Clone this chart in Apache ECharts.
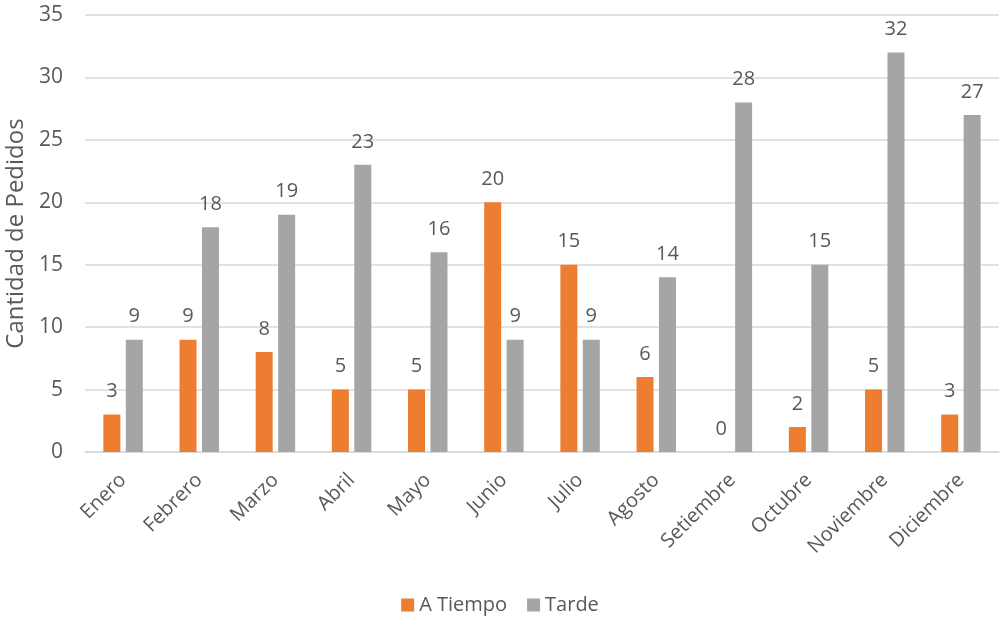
<!DOCTYPE html>
<html>
<head>
<meta charset="utf-8">
<script src="https://cdn.jsdelivr.net/npm/echarts@6/dist/echarts.min.js"></script>
<style>
  html, body { margin: 0; padding: 0; background: #fff; }
  #chart { width: 1000px; height: 617px; }
</style>
</head>
<body>
<div id="chart"></div>
<script>
// Pedidos por mes: entregados a tiempo vs. tarde
const meses = ['Enero', 'Febrero', 'Marzo', 'Abril', 'Mayo', 'Junio', 'Julio',
  'Agosto', 'Setiembre', 'Octubre', 'Noviembre', 'Diciembre'];
const aTiempo = [3, 9, 8, 5, 5, 20, 15, 6, 0, 2, 5, 3];
const tarde = [9, 18, 19, 23, 16, 9, 9, 14, 28, 15, 32, 27];

const textColor = '#595959';
const fontFamily = '"Open Sans", "Noto Sans", sans-serif';

const chart = echarts.init(document.getElementById('chart'));

const labelStyle = {
  show: true,
  position: 'top',
  distance: 13,
  color: textColor,
  fontSize: 20,
  fontFamily: fontFamily
};

chart.setOption({
  animation: false,
  textStyle: { fontFamily: fontFamily },
  grid: {
    left: 85, right: 1, top: 15, bottom: 165,
    containLabel: false,
    outerBoundsMode: 'none'
  },
  legend: {
    top: 590,
    left: 'center',
    itemWidth: 13,
    itemHeight: 13,
    itemGap: 20,
    icon: 'rect',
    textStyle: { color: textColor, fontSize: 20, fontFamily: fontFamily },
    data: ['A Tiempo', 'Tarde']
  },
  xAxis: {
    type: 'category',
    data: meses,
    axisLine: { lineStyle: { color: '#D9D9D9', width: 1.5 } },
    axisTick: { show: false },
    axisLabel: {
      rotate: 45,
      color: textColor,
      fontSize: 20,
      margin: 25,
      interval: 0
    }
  },
  yAxis: {
    type: 'value',
    min: 0,
    max: 35,
    interval: 5,
    name: 'Cantidad de Pedidos',
    nameLocation: 'middle',
    nameGap: 57,
    nameTextStyle: { color: textColor, fontSize: 24 },
    axisLine: { show: false },
    axisTick: { show: false },
    axisLabel: { color: textColor, fontSize: 21, margin: 22 },
    splitLine: { lineStyle: { color: '#D9D9D9', width: 1.5 } }
  },
  series: [
    {
      name: 'A Tiempo',
      type: 'bar',
      data: aTiempo,
      barWidth: 17,
      barGap: '32%',
      itemStyle: { color: '#ED7D31' },
      label: labelStyle
    },
    {
      name: 'Tarde',
      type: 'bar',
      data: tarde,
      barWidth: 17,
      barGap: '32%',
      itemStyle: { color: '#A5A5A5' },
      label: labelStyle
    }
  ]
});
</script>
</body>
</html>
